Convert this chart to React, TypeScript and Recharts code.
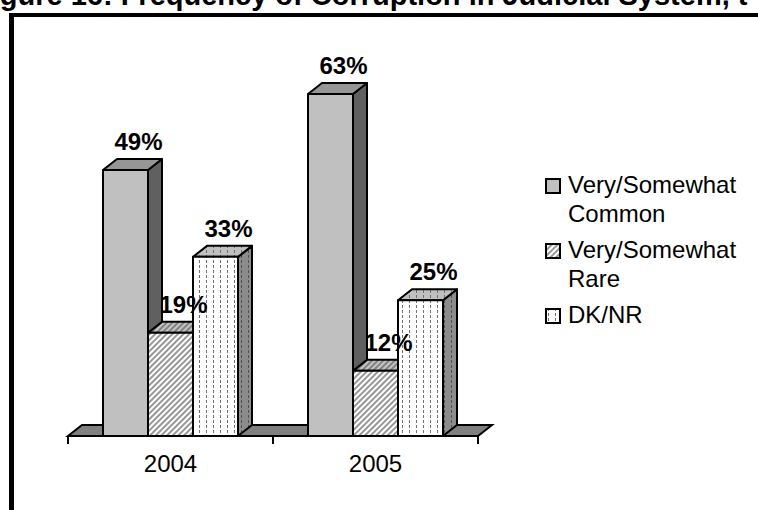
import React from "react";
import { BarChart, Bar, XAxis, YAxis, CartesianGrid, LabelList } from "recharts";

const years = ["2004", "2005"];
const commonValues = [49, 63];
const rareValues = [19, 12];
const dkValues = [33, 25];
const seriesNames = ["Very/Somewhat Common", "Very/Somewhat Rare", "DK/NR"];
const titleText = "Figure 16: Frequency of Corruption in Judicial System, t";

const data = years.map((year, i) => ({
  year,
  common: commonValues[i],
  rare: rareValues[i],
  dk: dkValues[i],
}));

const FONT = "'Liberation Sans', Arial, sans-serif";
const W = 758;
const H = 510;
const DX = 14; // 3d depth
const DY = 11;
const AXIS_H = 74;
const margin = { top: 56, right: 280, left: 68, bottom: 0 };
const half = (W - margin.left - margin.right) / years.length / 2;
const plotBottom = H - margin.bottom - AXIS_H;

type Faces = { front: string; top: string; side: string };

const commonFaces: Faces = { front: "#c0c0c0", top: "#969696", side: "#606060" };
const rareFaces: Faces = { front: "url(#hatch)", top: "url(#hatchTop)", side: "url(#hatchSide)" };
const dkFaces: Faces = { front: "url(#dash)", top: "url(#dashTop)", side: "url(#dashSide)" };
const swatches = [commonFaces.front, rareFaces.front, dkFaces.front];

const box = (f: Faces) => (p: any) => {
  const { x, y, width: w, height: h } = p;
  if (w == null || h == null) return <g />;
  return (
    <g stroke="#000" strokeWidth={2} strokeLinejoin="round">
      <polygon
        points={`${x + w},${y} ${x + w + DX},${y - DY} ${x + w + DX},${y + h - DY} ${x + w},${y + h}`}
        fill={f.side}
      />
      <polygon
        points={`${x},${y} ${x + DX},${y - DY} ${x + w + DX},${y - DY} ${x + w},${y}`}
        fill={f.top}
      />
      <rect x={x} y={y} width={w} height={h} fill={f.front} />
    </g>
  );
};

const renderLabel = (p: any) => {
  const vb = p.viewBox || p;
  const x = vb.x ?? p.x;
  const y = vb.y ?? p.y;
  const width = vb.width ?? p.width;
  return (
    <text
      x={x + width / 2 + 13}
      y={y - 20}
      textAnchor="middle"
      fontFamily={FONT}
      fontSize={24}
      fontWeight="bold"
      fill="#000"
    >
      {p.value}%
    </text>
  );
};

// only the line at value 0 becomes the 3d floor
const floor = (p: any) => {
  const { x1, x2, y1 } = p;
  if (Math.abs(y1 - plotBottom) > 1) return <g key={p.key} />;
  return (
    <polygon
      key={p.key}
      points={`${x1},${y1} ${x2},${y1} ${x2 + DX},${y1 - DY} ${x1 + DX},${y1 - DY}`}
      fill="#808080"
      stroke="#000"
      strokeWidth={2}
    />
  );
};

const YearTick = (p: any) => {
  const { x, y, payload } = p;
  return (
    <g>
      <line x1={x - half} x2={x - half} y1={y} y2={y + 8} stroke="#000" strokeWidth={2} />
      <line x1={x + half} x2={x + half} y1={y} y2={y + 8} stroke="#000" strokeWidth={2} />
      <text x={x} y={y + 36} textAnchor="middle" fontFamily={FONT} fontSize={24} fill="#000">
        {payload.value}
      </text>
    </g>
  );
};

export default function App() {
  return (
    <div
      style={{
        position: "absolute",
        left: 0,
        top: 0,
        width: W,
        height: H,
        overflow: "hidden",
        background: "#fff",
      }}
    >
      <svg width={0} height={0} style={{ position: "absolute" }}>
        <defs>
          <pattern id="hatch" patternUnits="userSpaceOnUse" width={4} height={4} patternTransform="rotate(45)">
            <rect width={4} height={4} fill="#fff" />
            <line x1={2} y1={0} x2={2} y2={4} stroke="#8c8c8c" strokeWidth={1.8} />
          </pattern>
          <pattern id="hatchTop" patternUnits="userSpaceOnUse" width={4} height={4} patternTransform="rotate(45)">
            <rect width={4} height={4} fill="#c4c4c4" />
            <line x1={2} y1={0} x2={2} y2={4} stroke="#7a7a7a" strokeWidth={1.8} />
          </pattern>
          <pattern id="hatchSide" patternUnits="userSpaceOnUse" width={4} height={4} patternTransform="rotate(45)">
            <rect width={4} height={4} fill="#707070" />
            <line x1={2} y1={0} x2={2} y2={4} stroke="#404040" strokeWidth={1.8} />
          </pattern>
          <pattern id="dash" patternUnits="userSpaceOnUse" width={7} height={5}>
            <rect width={7} height={5} fill="#fff" />
            <line x1={3.5} y1={0} x2={3.5} y2={3} stroke="#707070" strokeWidth={1} />
          </pattern>
          <pattern id="dashTop" patternUnits="userSpaceOnUse" width={7} height={5}>
            <rect width={7} height={5} fill="#c0c0c0" />
            <line x1={3.5} y1={0} x2={3.5} y2={3} stroke="#707070" strokeWidth={1} />
          </pattern>
          <pattern id="dashSide" patternUnits="userSpaceOnUse" width={7} height={5}>
            <rect width={7} height={5} fill="#8c8c8c" />
            <line x1={3.5} y1={0} x2={3.5} y2={3} stroke="#505050" strokeWidth={1} />
          </pattern>
        </defs>
      </svg>

      <svg width={W} height={20} style={{ position: "absolute", left: 0, top: 0 }}>
        <text x={-26} y={5} fontFamily={FONT} fontSize={29} fontWeight="bold" fill="#000">
          {titleText}
        </text>
      </svg>

      <div
        style={{
          position: "absolute",
          left: 9,
          top: 13,
          width: 1000,
          height: 1000,
          borderTop: "4px solid #000",
          borderLeft: "5px solid #000",
        }}
      />

      <div style={{ position: "absolute", left: 0, top: 0 }}>
        <BarChart width={W} height={H} data={data} margin={margin} barGap={0}>
          <CartesianGrid vertical={false} horizontal={floor} />
          <YAxis hide domain={[0, 70]} ticks={[0]} />
          <XAxis
            dataKey="year"
            height={AXIS_H}
            interval={0}
            tickLine={false}
            tickSize={0}
            tickMargin={0}
            axisLine={{ stroke: "#000", strokeWidth: 2 }}
            tick={YearTick}
          />
          <Bar dataKey="common" barSize={45} shape={box(commonFaces)} isAnimationActive={false}>
            <LabelList dataKey="common" content={renderLabel} />
          </Bar>
          <Bar dataKey="rare" barSize={45} shape={box(rareFaces)} isAnimationActive={false}>
            <LabelList dataKey="rare" content={renderLabel} />
          </Bar>
          <Bar dataKey="dk" barSize={45} shape={box(dkFaces)} isAnimationActive={false}>
            <LabelList dataKey="dk" content={renderLabel} />
          </Bar>
        </BarChart>
      </div>

      <div
        style={{
          position: "absolute",
          left: 545,
          top: 170,
          width: 200,
          fontFamily: FONT,
          fontSize: 24,
          lineHeight: "29px",
          color: "#000",
        }}
      >
        {seriesNames.map((name, i) => (
          <div key={name} style={{ position: "relative", paddingLeft: 23, marginBottom: 7 }}>
            <svg width={16} height={16} style={{ position: "absolute", left: 0, top: 8 }}>
              <rect x={1} y={1} width={14} height={14} fill={swatches[i]} stroke="#000" strokeWidth={2} />
            </svg>
            {name}
          </div>
        ))}
      </div>
    </div>
  );
}
